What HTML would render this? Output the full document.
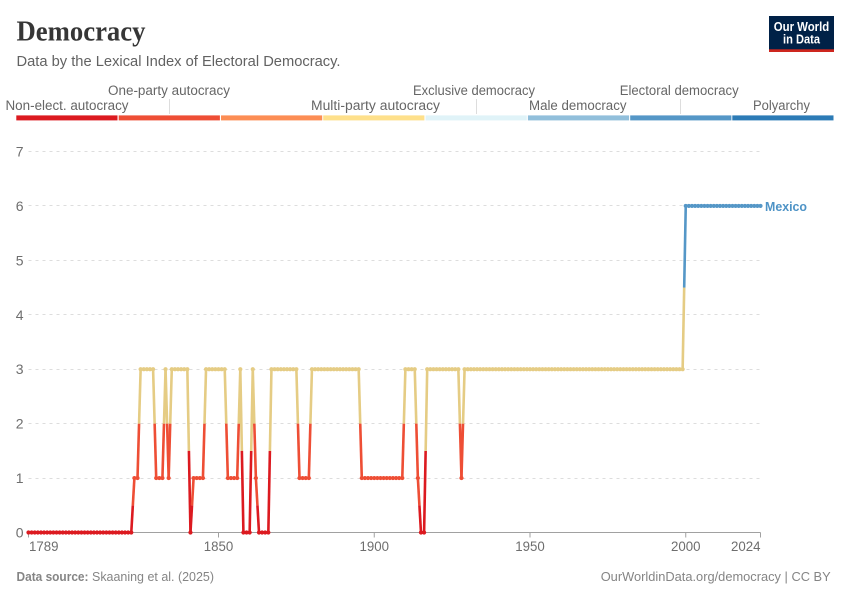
<!DOCTYPE html>
<html lang="en">
<head>
<meta charset="utf-8">
<title>Democracy</title>
<style>
  html, body { margin: 0; padding: 0; background: #fff; }
  svg { display: block; font-family: "Liberation Sans", sans-serif; }
</style>
</head>
<body>
<svg id="chart" xmlns="http://www.w3.org/2000/svg" width="850" height="600" viewBox="0 0 850 600">
  <rect width="850" height="600" fill="#fff"/>

  <text x="16.5" y="40.5" font-family="'Liberation Serif', serif" font-weight="700" font-size="28" fill="#363636" textLength="129" lengthAdjust="spacingAndGlyphs">Democracy</text>
  <text x="16.5" y="66" font-size="14.5" fill="#626262" textLength="324" lengthAdjust="spacingAndGlyphs">Data by the Lexical Index of Electoral Democracy.</text>

  <g>
    <rect x="769" y="16" width="65" height="36" fill="#002147"/>
    <rect x="769" y="49.3" width="65" height="2.7" fill="#ce261e"/>
    <text x="801.5" y="31" text-anchor="middle" font-size="13" font-weight="700" fill="#fff" textLength="55.5" lengthAdjust="spacingAndGlyphs">Our World</text>
    <text x="801.5" y="43.3" text-anchor="middle" font-size="13" font-weight="700" fill="#fff" textLength="37" lengthAdjust="spacingAndGlyphs">in Data</text>
  </g>

  <g font-size="13.5" fill="#666">
    <line x1="169.5" x2="169.5" y1="99" y2="114" stroke="#ddd"/>
    <line x1="476.5" x2="476.5" y1="99" y2="114" stroke="#ddd"/>
    <line x1="680.5" x2="680.5" y1="99" y2="114" stroke="#ddd"/>

    <rect x="16.3" y="115.4" width="101.2" height="5" fill="#dc1a20"/>
    <rect x="118.7" y="115.4" width="101.2" height="5" fill="#ee4e35"/>
    <rect x="221" y="115.4" width="101.2" height="5" fill="#fc8d54"/>
    <rect x="323.2" y="115.4" width="101.2" height="5" fill="#fee08b"/>
    <rect x="425.6" y="115.4" width="101.2" height="5" fill="#e0f3f8"/>
    <rect x="527.9" y="115.4" width="101.2" height="5" fill="#91bfdb"/>
    <rect x="630.2" y="115.4" width="101.2" height="5" fill="#5597c7"/>
    <rect x="732.3" y="115.4" width="101.2" height="5" fill="#2c7bb6"/>

    <text x="5.5" y="110" textLength="123" lengthAdjust="spacingAndGlyphs">Non-elect. autocracy</text>
    <text x="108" y="95" textLength="122" lengthAdjust="spacingAndGlyphs">One-party autocracy</text>
    <text x="311" y="110" textLength="129" lengthAdjust="spacingAndGlyphs">Multi-party autocracy</text>
    <text x="413" y="95" textLength="122" lengthAdjust="spacingAndGlyphs">Exclusive democracy</text>
    <text x="529" y="110" textLength="97.5" lengthAdjust="spacingAndGlyphs">Male democracy</text>
    <text x="619.7" y="95" textLength="119" lengthAdjust="spacingAndGlyphs">Electoral democracy</text>
    <text x="753" y="110" textLength="57" lengthAdjust="spacingAndGlyphs">Polyarchy</text>
  </g>

  <g id="y-axis"></g>
  <g id="x-axis"></g>
  <g id="series"></g>

  <text x="765" y="211" font-size="13" font-weight="700" fill="#4e93c6" textLength="42" lengthAdjust="spacingAndGlyphs">Mexico</text>

  <text x="16.5" y="581" font-size="13" font-weight="700" fill="#858585" textLength="72" lengthAdjust="spacingAndGlyphs">Data source:</text>
  <text x="92" y="581" font-size="13" fill="#858585" textLength="122" lengthAdjust="spacingAndGlyphs">Skaaning et al. (2025)</text>
  <text x="600.7" y="581" font-size="13" fill="#858585" textLength="230" lengthAdjust="spacingAndGlyphs">OurWorldinData.org/democracy | CC BY</text>
</svg>

<script>
const years = [
  1789,1790,1791,1792,1793,1794,1795,1796,1797,1798,1799,
  1800,1801,1802,1803,1804,1805,1806,1807,1808,1809,
  1810,1811,1812,1813,1814,1815,1816,1817,1818,1819,
  1820,1821,1822,1823,1824,1825,1826,1827,1828,1829,
  1830,1831,1832,1833,1834,1835,1836,1837,1838,1839,
  1840,1841,1842,1843,1844,1845,1846,1847,1848,1849,
  1850,1851,1852,1853,1854,1855,1856,1857,1858,1859,
  1860,1861,1862,1863,1864,1865,1866,1867,1868,1869,
  1870,1871,1872,1873,1874,1875,1876,1877,1878,1879,
  1880,1881,1882,1883,1884,1885,1886,1887,1888,1889,
  1890,1891,1892,1893,1894,1895,1896,1897,1898,1899,
  1900,1901,1902,1903,1904,1905,1906,1907,1908,1909,
  1910,1911,1912,1913,1914,1915,1916,1917,1918,1919,
  1920,1921,1922,1923,1924,1925,1926,1927,1928,1929,
  1930,1931,1932,1933,1934,1935,1936,1937,1938,1939,
  1940,1941,1942,1943,1944,1945,1946,1947,1948,1949,
  1950,1951,1952,1953,1954,1955,1956,1957,1958,1959,
  1960,1961,1962,1963,1964,1965,1966,1967,1968,1969,
  1970,1971,1972,1973,1974,1975,1976,1977,1978,1979,
  1980,1981,1982,1983,1984,1985,1986,1987,1988,1989,
  1990,1991,1992,1993,1994,1995,1996,1997,1998,1999,
  2000,2001,2002,2003,2004,2005,2006,2007,2008,2009,
  2010,2011,2012,2013,2014,2015,2016,2017,2018,2019,
  2020,2021,2022,2023,2024
];
const mexicoValues = [
  0,0,0,0,0,0,0,0,0,0,0,
  0,0,0,0,0,0,0,0,0,0,
  0,0,0,0,0,0,0,0,0,0,
  0,0,0,1,1,3,3,3,3,3,
  1,1,1,3,1,3,3,3,3,3,
  3,0,1,1,1,1,3,3,3,3,
  3,3,3,1,1,1,1,3,0,0,
  0,3,1,0,0,0,0,3,3,3,
  3,3,3,3,3,3,1,1,1,1,
  3,3,3,3,3,3,3,3,3,3,
  3,3,3,3,3,3,1,1,1,1,
  1,1,1,1,1,1,1,1,1,1,
  3,3,3,3,1,0,0,3,3,3,
  3,3,3,3,3,3,3,3,1,3,
  3,3,3,3,3,3,3,3,3,3,
  3,3,3,3,3,3,3,3,3,3,
  3,3,3,3,3,3,3,3,3,3,
  3,3,3,3,3,3,3,3,3,3,
  3,3,3,3,3,3,3,3,3,3,
  3,3,3,3,3,3,3,3,3,3,
  3,3,3,3,3,3,3,3,3,3,
  6,6,6,6,6,6,6,6,6,6,
  6,6,6,6,6,6,6,6,6,6,
  6,6,6,6,6
];
const yTickValues = [0, 1, 2, 3, 4, 5, 6, 7];
const xTickYears = [1789, 1850, 1900, 1950, 2000, 2024];

const NS = 'http://www.w3.org/2000/svg';
const levelColors = ['#dc1a20', '#ee4e35', '#fc8d54', '#e5cc84', '#a8d8e6', '#91bfdb', '#5597c7', '#2c7bb6'];

const X_ZERO_YEAR = 1850, X_ZERO_PX = 218.5, X_PX_PER_YEAR = 3.115;
const Y_BASE_PX = 532.5, Y_PX_PER_UNIT = 54.43;
function xScale(year) { return X_ZERO_PX + (year - X_ZERO_YEAR) * X_PX_PER_YEAR; }
function yScale(value) { return Y_BASE_PX - value * Y_PX_PER_UNIT; }
function snap(px) { return Math.floor(px) + 0.5; }

function mk(tag, parent, props, text) {
  const el = document.createElementNS(NS, tag);
  Object.keys(props).forEach(function (k) { el.setAttribute(k, props[k]); });
  if (text !== undefined) el.textContent = text;
  parent.appendChild(el);
  return el;
}

const yAxis = document.getElementById('y-axis');
const xAxis = document.getElementById('x-axis');
const series = document.getElementById('series');
const axisLeft = xScale(years[0]);
const axisRight = xScale(years[years.length - 1]);

yTickValues.forEach(function (v) {
  const label = mk('text', yAxis, { x: 23.5, y: yScale(v) + 5, 'text-anchor': 'end', 'font-size': 14, fill: '#6e6e6e' }, String(v));
  
  
  if (v === 0) return;
  const grid = mk('line', yAxis, { x1: axisLeft, x2: axisRight, y1: snap(yScale(v)), y2: snap(yScale(v)), stroke: '#ddd', 'stroke-dasharray': '3,4' });
  
  
});

const axisLine = mk('line', xAxis, { x1: axisLeft, x2: axisRight, y1: yScale(0), y2: yScale(0), stroke: '#a1a1a1', 'stroke-width': 1 });



xTickYears.forEach(function (yr, i) {
  const px = xScale(yr);
  const tick = mk('line', xAxis, { x1: px, x2: px, y1: yScale(0), y2: yScale(0) + 5, stroke: '#a1a1a1' });
  
  
  let anchor = 'middle', tx = px;
  if (i === 0) { anchor = 'start'; tx = px + 0.5; }
  if (i === xTickYears.length - 1) { anchor = 'end'; tx = px; }
  const label = mk('text', xAxis, { x: tx, y: 551, 'text-anchor': anchor, 'font-size': 13.5, fill: '#6e6e6e', textLength: 29.5, lengthAdjust: 'spacingAndGlyphs' }, String(yr));
  
  
});

function addSegment(x1, y1, x2, y2, color) {
  const seg = mk('line', series, { x1: x1, y1: y1, x2: x2, y2: y2, stroke: color, 'stroke-width': 2.6, 'stroke-linecap': 'butt' });
  
  
}

for (let i = 0; i < years.length - 1; i++) {
  const a = mexicoValues[i], b = mexicoValues[i + 1];
  const x1 = xScale(years[i]), x2 = xScale(years[i + 1]);
  const y1 = yScale(a), y2 = yScale(b);
  if (a === b) {
    addSegment(x1, y1, x2, y2, levelColors[a]);
  } else {
    const xm = (x1 + x2) / 2, ym = (y1 + y2) / 2;
    addSegment(x1, y1, xm, ym, levelColors[a]);
    addSegment(xm, ym, x2, y2, levelColors[b]);
  }
}

years.forEach(function (yr, i) {
  const v = mexicoValues[i];
  const dot = mk('circle', series, { cx: xScale(yr), cy: yScale(v), r: 2.1, fill: levelColors[v] });
  
  
});
</script>
</body>
</html>
